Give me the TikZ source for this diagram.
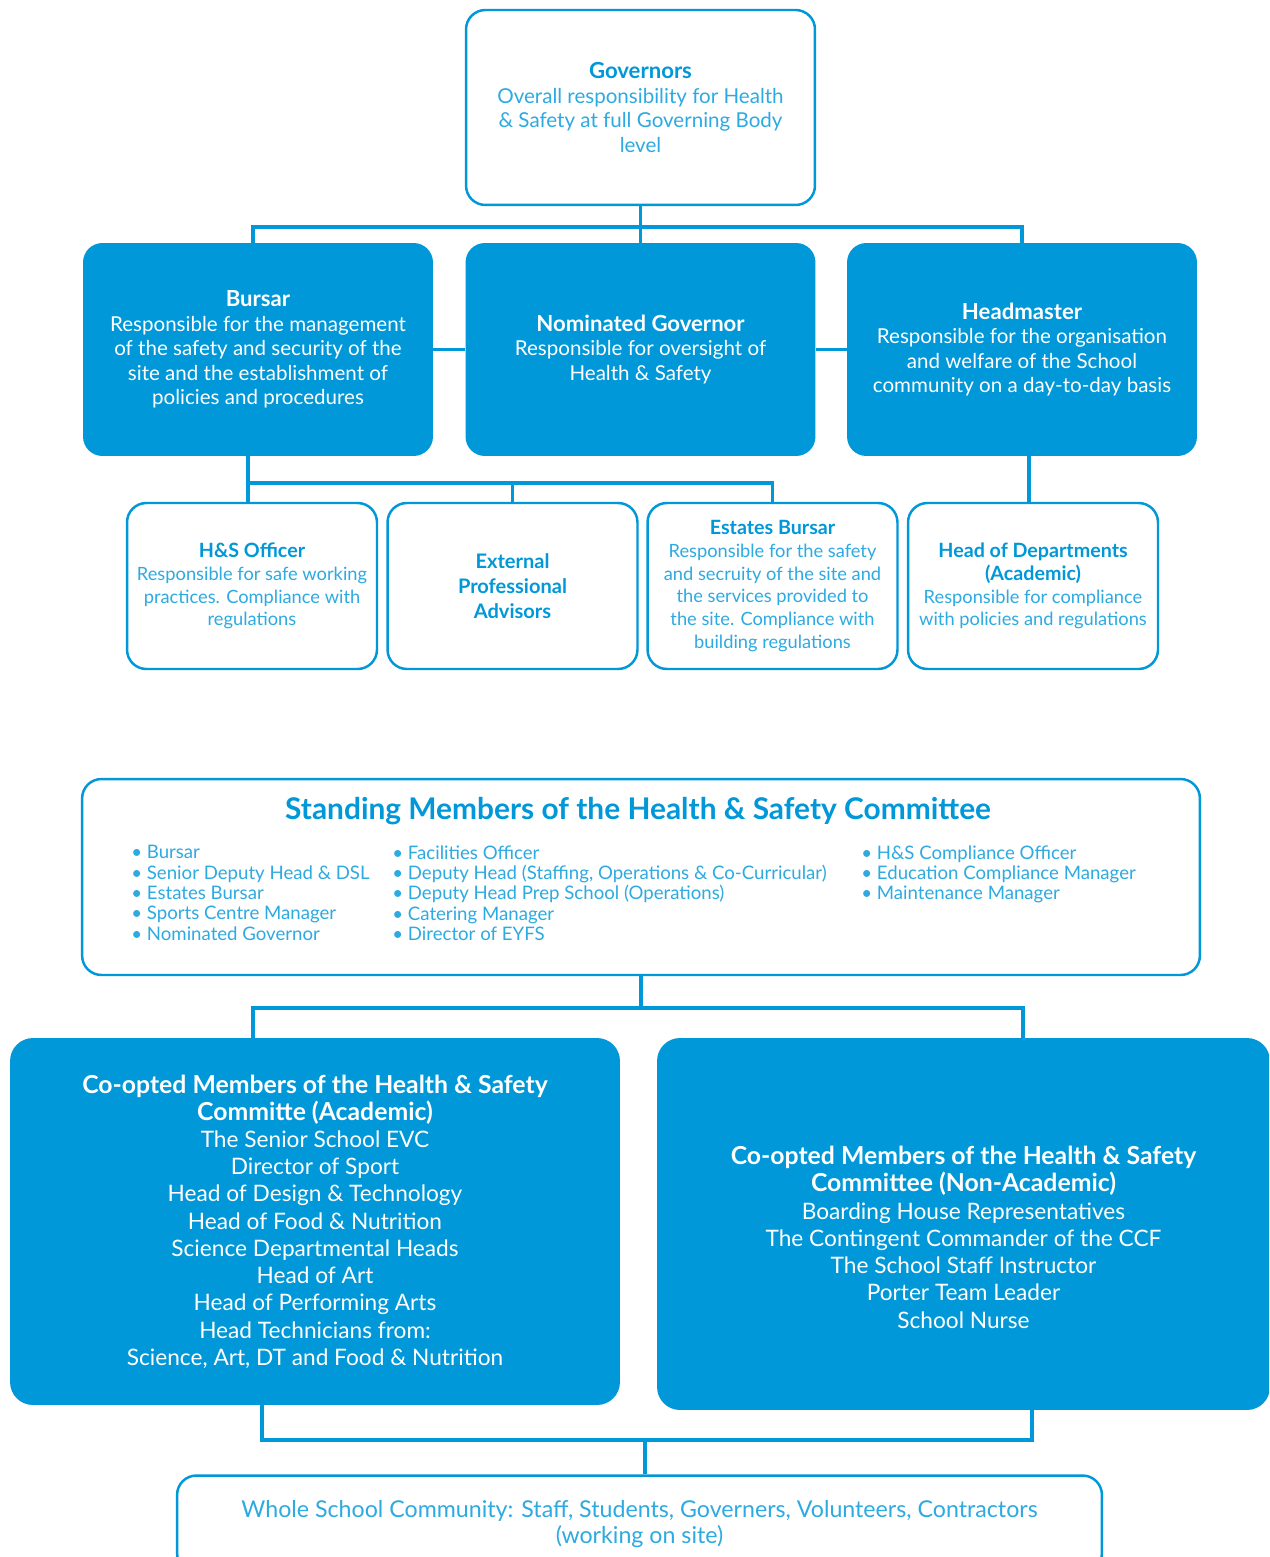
\documentclass[tikz,border=0pt]{standalone}
\usepackage{fontspec}
\setmainfont{Lato}
\definecolor{hsblue}{RGB}{0,152,216}
\definecolor{hslight}{RGB}{45,170,225}

\begin{document}
\begin{tikzpicture}[x=0.02cm,y=-0.02cm]
    \tikzset{whitebox/.style = {shape=rectangle,draw=hsblue,line width=1.4pt,fill=white,rounded corners=11pt,align=center,text=hslight,inner sep=2pt}}
    \tikzset{bluebox/.style = {shape=rectangle,fill=hsblue,rounded corners=11pt,align=center,text=white,inner sep=2pt}}
    \tikzset{link/.style = {draw=hsblue,line width=2.1pt}}
    \tikzset{upper/.style = {minimum width=7cm,minimum height=4.26cm,font=\fontsize{11.7}{13.9}\selectfont}}
    \tikzset{lower/.style = {whitebox,minimum width=5cm,minimum height=3.32cm,font=\fontsize{10.4}{13}\selectfont}}
    \tikzset{coopt/.style = {bluebox,rounded corners=13pt,font=\fontsize{12.9}{15.5}\selectfont}}
    \tikzset{members/.style = {anchor=north west,align=left,inner sep=0pt,text=hslight,font=\fontsize{10.6}{11.6}\selectfont}}
    \clip (0,0) rectangle (1269,1557);
    \fill[white] (0,0) rectangle (1269,1557);
    % governors and the three below them
    \node[whitebox,minimum width=6.98cm,minimum height=3.9cm,font=\fontsize{11.7}{13.9}\selectfont] (gov) at (640.5,107.5)
    {{\color{hsblue}\bfseries\fontsize{12.6}{13.9}\selectfont Governors}\\ Overall responsibility for Health\\ \& Safety at full Governing Body\\ level};
    \node[bluebox,upper] (bursar) at (258,349.5)
    {{\bfseries\fontsize{12.6}{13.9}\selectfont Bursar}\\ Responsible for the management\\ of the safety and security of the\\ site and the establishment of\\ policies and procedures};
    \node[bluebox,upper] (nomgov) at (640.5,349.5)
    {{\bfseries\fontsize{12.6}{13.9}\selectfont Nominated Governor}\\ Responsible for oversight of\\ Health \& Safety};
    \node[bluebox,upper] (head) at (1022,349.5)
    {{\bfseries\fontsize{12.6}{13.9}\selectfont Headmaster}\\ Responsible for the organisation\\ and welfare of the School\\ community on a day-to-day basis};
    \coordinate (govbus) at (638,227);
    \draw[link] (gov) -- (nomgov);
    \draw[link] (bursar.north -| 253,0) |- (govbus) -| (head.north);
    \draw[link] (bursar) -- (nomgov);
    \draw[link] (nomgov) -- (head);
%%%%%%%%%%%%%%%%%
    \node[lower] (hsoff) at (252,586)
    {{\color{hsblue}\bfseries\fontsize{11.2}{13}\selectfont H\&S Officer}\\ Responsible for safe working\\ practices. Compliance with\\ regulations};
    \node[lower,text=hsblue,font=\bfseries\fontsize{11.4}{14.2}\selectfont] (external) at (512.5,586)
    {External\\ Professional\\ Advisors};
    \node[lower] (estates) at (772.5,586)
    {{\color{hsblue}\bfseries\fontsize{11.2}{13}\selectfont Estates Bursar}\\ Responsible for the safety\\ and secruity of the site and\\ the services provided to\\ the site. Compliance with\\ building regulations};
    \node[lower] (hod) at (1033,586)
    {{\color{hsblue}\bfseries\fontsize{11.2}{13}\selectfont Head of Departments}\\ {\color{hsblue}\bfseries\fontsize{11.2}{13}\selectfont (Academic)}\\ Responsible for compliance\\ with policies and regulations};
    \coordinate (bursbus) at (248,483);
    \draw[link] (bursbus |- bursar.south) -- (bursbus) -- (bursbus |- hsoff.north);
    \draw[link] (bursbus) -| (estates);
    \draw[link] (external) -- (external |- bursbus);
    \draw[link] (head.south -| 1029,0) -- (hod.north -| 1029,0);
%%%%%%%%%%%%%%%%%
    \node[whitebox,minimum width=22.36cm,minimum height=3.92cm] (standing) at (641,877) {};
    \node[text=hsblue,font=\bfseries\fontsize{17}{18}\selectfont] (standtitle) at (638,811)
    {Standing Members of the Health \& Safety Committee};
    \node[members] (col1) at (131,845)
    {• Bursar\\ • Senior Deputy Head \& DSL\\ • Estates Bursar\\ • Sports Centre Manager\\ • Nominated Governor};
    \node[members] (col2) at (392,845)
    {• Facilities Officer\\ • Deputy Head (Staffing, Operations \& Co-Curricular)\\ • Deputy Head Prep School (Operations)\\ • Catering Manager\\ • Director of EYFS};
    \node[members] (col3) at (861,845)
    {• H\&S Compliance Officer\\ • Education Compliance Manager\\ • Maintenance Manager};
%%%%%%%%%%%%%%%%%
    \node[coopt,minimum width=12.2cm,minimum height=7.34cm] (coacad) at (315,1221.5)
    {{\bfseries\fontsize{14.1}{15.5}\selectfont Co-opted Members of the Health \& Safety}\\
     {\bfseries\fontsize{14.1}{15.5}\selectfont Committe (Academic)}\\
     The Senior School EVC\\ Director of Sport\\ Head of Design \& Technology\\ Head of Food \& Nutrition\\
     Science Departmental Heads\\ Head of Art\\ Head of Performing Arts\\ Head Technicians from:\\
     Science, Art, DT and Food \& Nutrition};
    \node[coopt,minimum width=12.26cm,minimum height=7.44cm] (conon) at (963.5,1224)
    {\mbox{}\\[10pt] {\bfseries\fontsize{14.1}{15.5}\selectfont Co-opted Members of the Health \& Safety}\\
     {\bfseries\fontsize{14.1}{15.5}\selectfont Committee (Non-Academic)}\\
     Boarding House Representatives\\ The Contingent Commander of the CCF\\ The School Staff Instructor\\
     Porter Team Leader\\ School Nurse};
    \coordinate (combusL) at (253,1008);
    \coordinate (combusR) at (1023,1008);
    \draw[link] (standing) -- (standing |- combusL);
    \draw[link] (combusL |- coacad.north) -- (combusL) -- (combusR) -- (combusR |- conon.north);
%%%%%%%%%%%%%%%%%
    \node[whitebox,minimum width=18.5cm,minimum height=1.94cm,font=\fontsize{13.2}{15.3}\selectfont] (community) at (639.5,1524)
    {Whole School Community: Staff, Students, Governers, Volunteers, Contractors\\ (working on site)};
    \coordinate (commL) at (262,1440);
    \coordinate (commR) at (1032,1440);
    \draw[link] (commL |- coacad.south) -- (commL) -- (commR) -- (commR |- conon.south);
    \draw[link] (community.north -| 645,0) -- (645,1440);
\end{tikzpicture}
\end{document}
